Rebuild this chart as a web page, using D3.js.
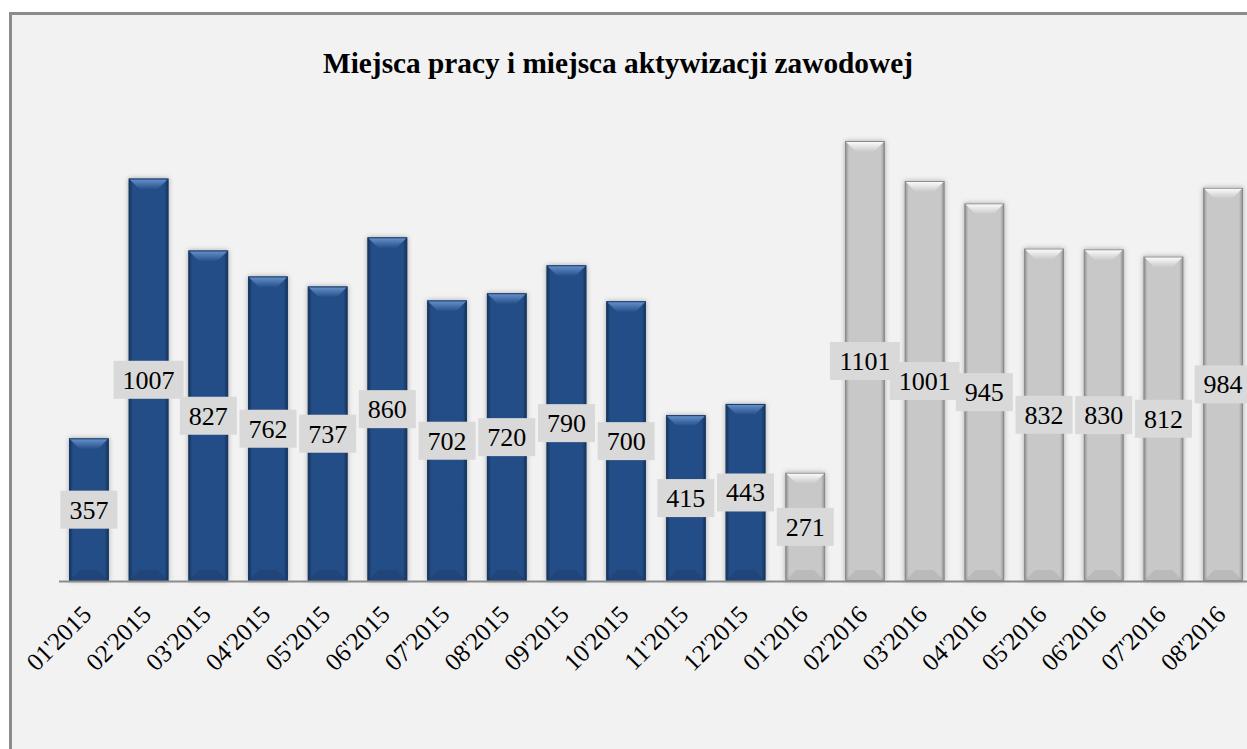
<!DOCTYPE html>
<html>
<head>
<meta charset="utf-8">
<script src="https://cdn.jsdelivr.net/npm/d3@7"></script>
<style>
body{margin:0;background:#fff;}
svg{display:block;}
</style>
</head>
<body>
<div class="chart"></div>
<script>
var months = ["01'2015","02'2015","03'2015","04'2015","05'2015","06'2015","07'2015","08'2015","09'2015","10'2015","11'2015","12'2015",
              "01'2016","02'2016","03'2016","04'2016","05'2016","06'2016","07'2016","08'2016"];
var values = [357,1007,827,762,737,860,702,720,790,700,415,443,271,1101,1001,945,832,830,812,984];
var years = ["2015","2015","2015","2015","2015","2015","2015","2015","2015","2015","2015","2015",
             "2016","2016","2016","2016","2016","2016","2016","2016"];
var title = "Miejsca pracy i miejsca aktywizacji zawodowej";

var W = 1247, H = 749;
var serif = "'Liberation Serif'";

var svg = d3.select("div.chart")
    .append("svg")
    .attr("width", W)
    .attr("height", H);

var defs = svg.append("defs");

// colours per year: body, edge, top bevel
var pal = {
    "2015": {body:"#244d86", edge:"#132e55", top:"#6a95d0", line:"#1a3a66"},
    "2016": {body:"#c8c8c8", edge:"#8e8e8e", top:"#ffffff", line:"#8a8a8a"}
};
Object.keys(pal).forEach(function(k){
    var g = defs.append("linearGradient").attr("id","body"+k)
        .attr("x1","0").attr("x2","1").attr("y1","0").attr("y2","0");
    g.append("stop").attr("offset","0").attr("stop-color",pal[k].edge);
    g.append("stop").attr("offset","0.1").attr("stop-color",pal[k].body);
    g.append("stop").attr("offset","0.9").attr("stop-color",pal[k].body);
    g.append("stop").attr("offset","1").attr("stop-color",pal[k].edge);
    var t = defs.append("linearGradient").attr("id","top"+k)
        .attr("x1","0").attr("x2","0").attr("y1","0").attr("y2","1");
    t.append("stop").attr("offset","0").attr("stop-color",pal[k].top);
    t.append("stop").attr("offset","1").attr("stop-color",pal[k].body);
});
var sh = defs.append("filter").attr("id","shadow")
    .attr("x","-30%").attr("y","-10%").attr("width","160%").attr("height","120%");
sh.append("feDropShadow").attr("dx",0).attr("dy",0).attr("stdDeviation",2.5)
    .attr("flood-color","#000").attr("flood-opacity",0.3);

// frame
svg.append("rect")
    .attr("x",10.5).attr("y",13.5)
    .attr("width",1300).attr("height",800)
    .attr("fill","#f2f2f2")
    .attr("stroke","#8c8c8c")
    .attr("stroke-width",3);

svg.append("text")
    .text(title)
    .attr("x",618)
    .attr("y",73)
    .attr("text-anchor","middle")
    .style("font-family",serif)
    .style("font-weight","bold")
    .style("font-size","29.3px")
    .attr("fill","#000");

var x = d3.scaleBand()
    .domain(months)
    .range([59, 1253])
    .paddingInner(0.335)
    .paddingOuter(0.168);

var y = d3.scaleLinear()
    .domain([0, 1101])
    .range([581, 141]);

var bev = 11;
var bars = svg.append("g").selectAll("g")
    .data(months)
    .join("g")
    .attr("filter","url(#shadow)");

bars.each(function(m, i){
    var g = d3.select(this);
    var x0 = x(m), bw = x.bandwidth();
    var y0 = y(values[i]), y1 = y(0);
    var p = pal[years[i]];
    g.append("rect")
        .attr("x",x0).attr("y",y0)
        .attr("width",bw).attr("height",y1 - y0)
        .attr("fill","url(#body"+years[i]+")");
    // top bevel
    g.append("path")
        .attr("d","M"+x0+","+y0+"L"+(x0+bw)+","+y0+"L"+(x0+bw-bev)+","+(y0+bev)+"L"+(x0+bev)+","+(y0+bev)+"Z")
        .attr("fill","url(#top"+years[i]+")");
    // bottom bevel
    g.append("path")
        .attr("d","M"+x0+","+y1+"L"+(x0+bw)+","+y1+"L"+(x0+bw-bev)+","+(y1-bev)+"L"+(x0+bev)+","+(y1-bev)+"Z")
        .attr("fill",p.edge)
        .attr("opacity",0.25);
    g.append("rect")
        .attr("x",x0+0.5).attr("y",y0+0.5)
        .attr("width",bw-1).attr("height",y1 - y0 - 1)
        .attr("fill","none")
        .attr("stroke",p.line)
        .attr("stroke-width",1);
});

// axis line
svg.append("line")
    .attr("x1",59).attr("x2",1260)
    .attr("y1",581.5).attr("y2",581.5)
    .attr("stroke","#8c8c8c")
    .attr("stroke-width",2);

// value labels
var labels = svg.append("g").selectAll("g")
    .data(months)
    .join("g")
    .attr("transform", function(m, i){
        var cx = x(m) + x.bandwidth()/2;
        var cy = (y(values[i]) + y(0))/2;
        return "translate("+cx+","+cy+")";
    });
labels.append("rect")
    .attr("x", function(m, i){ return -(String(values[i]).length*13 + 18)/2; })
    .attr("y",-19)
    .attr("width", function(m, i){ return String(values[i]).length*13 + 18; })
    .attr("height",38)
    .attr("fill","#d9d9d9");
labels.append("text")
    .text(function(m, i){ return values[i]; })
    .attr("text-anchor","middle")
    .attr("y",9)
    .style("font-family",serif)
    .style("font-size","26px")
    .attr("fill","#000");

// month tick labels
svg.append("g").selectAll("text")
    .data(months)
    .join("text")
    .text(function(d){ return d; })
    .attr("text-anchor","end")
    .style("font-family",serif)
    .style("font-size","25px")
    .attr("fill","#000")
    .attr("transform", function(d){
        return "translate("+(x(d) + x.bandwidth()/2 + 4)+",616) rotate(-45)";
    });
</script>
</body>
</html>
